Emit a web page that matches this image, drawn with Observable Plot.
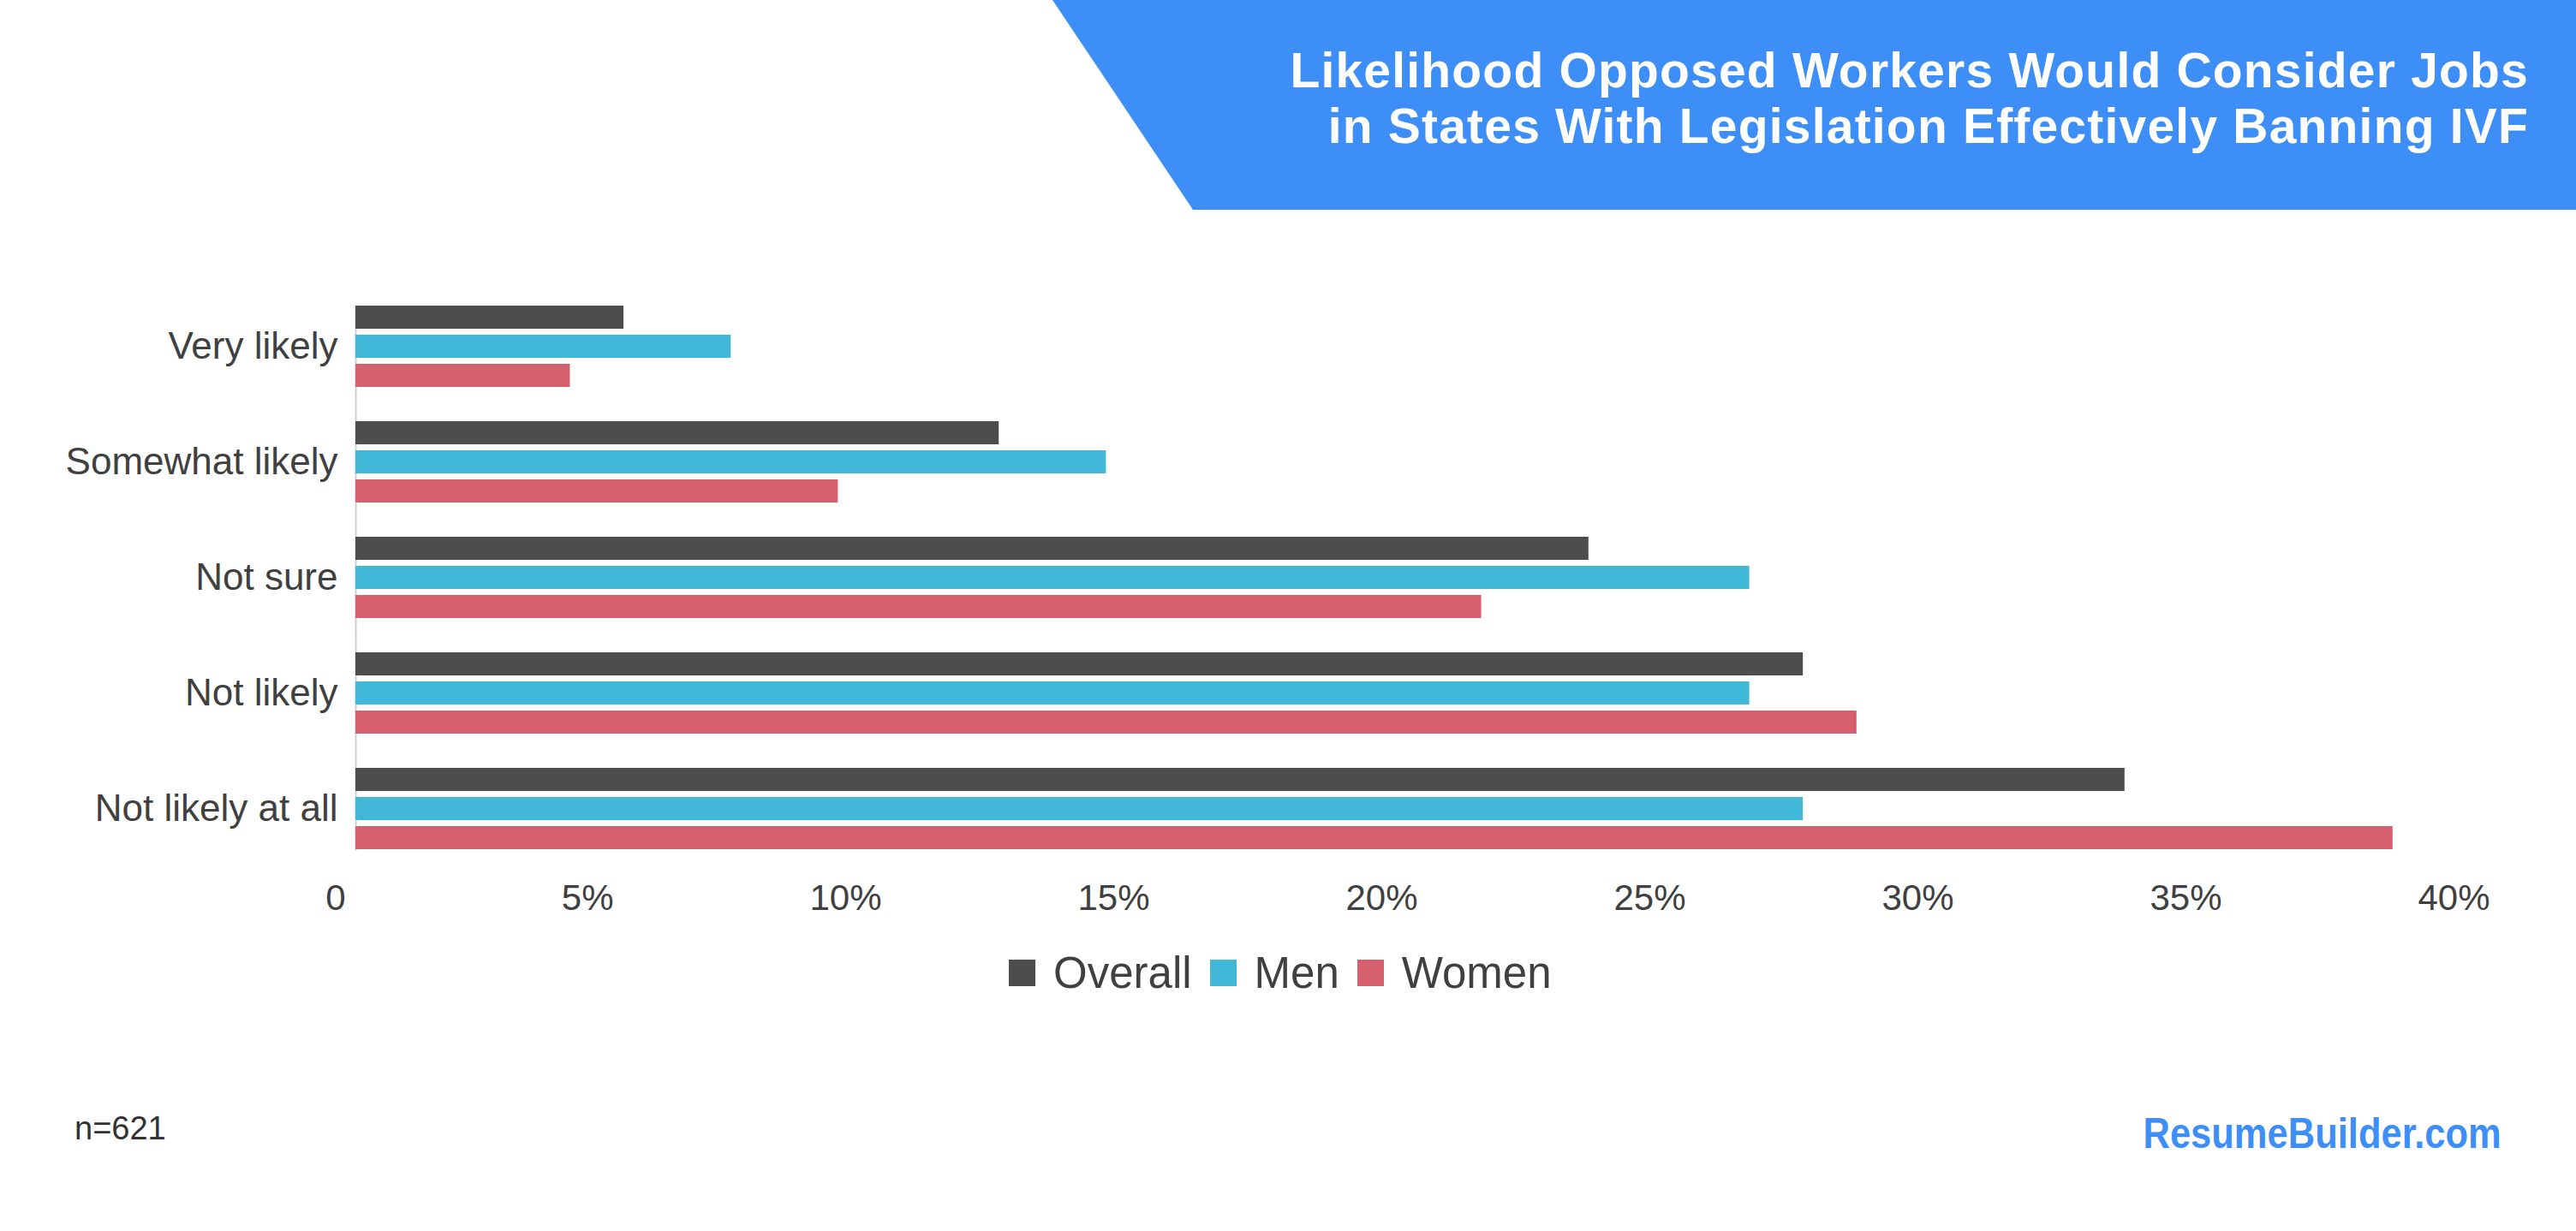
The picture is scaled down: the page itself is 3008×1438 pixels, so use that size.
<!DOCTYPE html>
<html><head><meta charset="utf-8">
<script src="https://cdn.jsdelivr.net/npm/d3@7"></script>
<script src="https://cdn.jsdelivr.net/npm/@observablehq/plot@0.6"></script>
<style>
html,body{margin:0;padding:0;background:#fff;}
#page{position:relative;width:3008px;height:1438px;overflow:hidden;background:#fff;font-family:"Liberation Sans",Arial,sans-serif;}
#banner{position:absolute;left:0;top:0;width:3008px;height:245px;background:#3e8ef7;clip-path:polygon(1229px 0,3008px 0,3008px 245px,1393px 245px);}
#title{position:absolute;right:55px;top:50px;color:#fff;font-weight:700;font-size:57px;line-height:65px;letter-spacing:1.2px;text-align:right;white-space:nowrap;}
#chart{position:absolute;left:0;top:0;}
#legend{position:absolute;left:1178px;top:1106px;height:60px;display:flex;align-items:center;}
#legend .lg-swatches{margin:0;}
#legend .lg-swatch{margin-right:21px;}
#legend .lg-swatch > svg{margin-right:21px;}
#n{position:absolute;left:87px;top:1299px;font-size:38px;line-height:1;color:#333;}
#brand{position:absolute;right:87px;top:1299px;font-size:50px;line-height:1;font-weight:700;color:#3e8ef7;transform:scaleX(0.87);transform-origin:right center;white-space:nowrap;}
</style>
</head>
<body>
<div id="page">
  <div id="banner"></div>
  <div id="title">Likelihood Opposed Workers Would Consider Jobs<br>in States With Legislation Effectively Banning IVF</div>
  <div id="chart"></div>
  <div id="legend"></div>
  <div id="n">n=621</div>
  <div id="brand">ResumeBuilder.com</div>
</div>
<script>
const categories = ["Very likely", "Somewhat likely", "Not sure", "Not likely", "Not likely at all"];
const series = ["Overall", "Men", "Women"];
const overall = [5, 12, 23, 27, 33];
const men = [7, 14, 26, 26, 27];
const women = [4, 9, 21, 28, 38];
const xTicks = [0, 5, 10, 15, 20, 25, 30, 35, 40];
const colors = ["#4d4d4d", "#42b8d8", "#d7606e"];

const seriesValues = [overall, men, women];
const data = categories.flatMap((c, i) => series.map((s, j) => ({category: c, series: s, value: seriesValues[j][i]})));

const font = "'Liberation Sans', Arial, sans-serif";

const chart = Plot.plot({
  width: 3008,
  height: 1180,
  marginTop: 268,
  marginBottom: 98,
  marginLeft: 415,
  marginRight: 89,
  style: {fontFamily: font, color: "#404040", background: "transparent", overflow: "visible"},
  x: {domain: [0, 40]},
  y: {domain: series, paddingInner: 0.213, paddingOuter: 0, axis: null},
  fy: {domain: categories, paddingInner: 0.295, paddingOuter: 0.6475},
  color: {domain: series, range: colors},
  marks: [
    Plot.frame({anchor: "left", facet: "super", stroke: "#cfcfcf", strokeWidth: 2}),
    Plot.barX(data, {fy: "category", y: "series", x: "value", fill: "series"}),
    Plot.axisX({ticks: xTicks, tickFormat: d => d === 0 ? "0" : d + "%", tickSize: 0, tickPadding: 41, textAnchor: "end", dx: -12, fontSize: 42, label: null}),
    Plot.axisFy({anchor: "left", tickSize: 0, tickPadding: 21, fontSize: 44, label: null})
  ]
});
document.getElementById("chart").appendChild(chart);

const legend = Plot.legend({
  color: {domain: series, range: colors},
  legend: "swatches",
  swatchSize: 31,
  className: "lg",
  style: {fontSize: "51px", fontFamily: font, color: "#404040"}
});
document.getElementById("legend").appendChild(legend);
</script>
</body></html>
